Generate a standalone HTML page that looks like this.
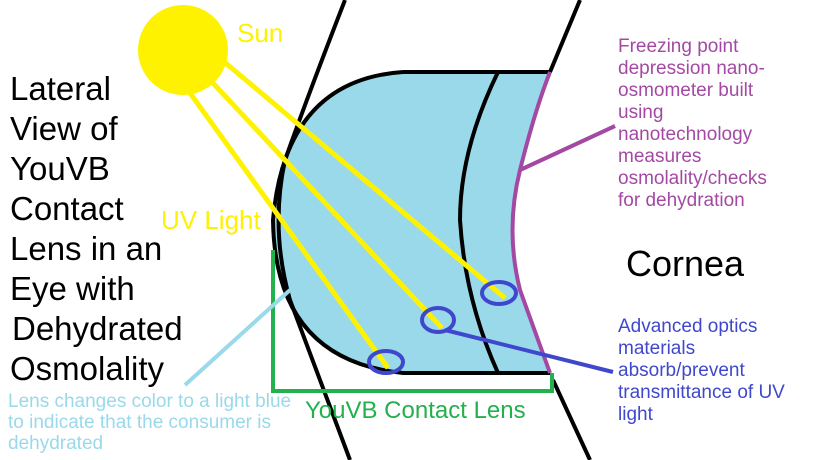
<!DOCTYPE html>
<html><head><style>
body{margin:0;width:819px;height:460px;overflow:hidden;background:#fff}
</style></head><body>
<svg width="819" height="460" xmlns="http://www.w3.org/2000/svg" style="position:absolute;left:0;top:0">
<path d="M403,72 L550,72 Q535,110 520,170 Q505,230 520,290 Q538,340 550,373 L403,373 Q275,360 273,220 Q285,80 403,72 Z" fill="#99d9ea" stroke="none"/>
<path d="M403,72 Q285,80 273,220 Q275,360 403,373 L550,373" fill="none" stroke="#000" stroke-width="4"/>
<path d="M403,72 L550,72" stroke="#000" stroke-width="4"/>
<path d="M498,72 Q460,150 460,220 Q465,300 498,373" fill="none" stroke="#000" stroke-width="4"/>
<path d="M345,0 Q310,90 285,160 Q270,230 290,300 L350,460" fill="none" stroke="#000" stroke-width="4"/>
<path d="M580,0 L550,72" stroke="#000" stroke-width="4"/>
<path d="M553,380 L590,460" stroke="#000" stroke-width="4"/>
<path d="M550,72 Q535,110 520,170 Q505,230 520,290 Q538,340 550,373" fill="none" stroke="#a349a4" stroke-width="4"/>
<path d="M520,170 L615,126" stroke="#a349a4" stroke-width="4"/>
<path d="M273,250 L273,391 L552,391 L552,373" fill="none" stroke="#22b14c" stroke-width="4"/>
<circle cx="183" cy="50" r="45" fill="#fff200"/>
<g stroke="#fff200" stroke-width="5">
<line x1="222" y1="60" x2="505" y2="298"/>
<line x1="212" y1="82" x2="442" y2="328"/>
<line x1="190" y1="93" x2="388" y2="368"/>
</g>
<path d="M290,290 L185,385" stroke="#99d9ea" stroke-width="4"/>
<g fill="none" stroke="#3f48cc" stroke-width="4">
<ellipse cx="499" cy="293" rx="17" ry="11"/>
<ellipse cx="438" cy="320" rx="16" ry="12"/>
<ellipse cx="386" cy="362" rx="17" ry="11"/>
</g>
<path d="M445,330 L613,372" stroke="#3f48cc" stroke-width="4"/>
<g font-family="Liberation Sans, sans-serif">
<g font-size="33" fill="#000">
<text x="10" y="100">Lateral</text>
<text x="10" y="140">View of</text>
<text x="10" y="180">YouVB</text>
<text x="10" y="220">Contact</text>
<text x="10" y="260">Lens in an</text>
<text x="10" y="300">Eye with</text>
<text x="12" y="340">Dehydrated</text>
<text x="10" y="380">Osmolality</text>
</g>
<text x="237" y="42" font-size="26" fill="#fff200">Sun</text>
<text x="161" y="229" font-size="26" fill="#fff200">UV Light</text>
<g font-size="19" fill="#99d9ea">
<text x="8" y="407">Lens changes color to a light blue</text>
<text x="8" y="428">to indicate that the consumer is</text>
<text x="8" y="449">dehydrated</text>
</g>
<text x="305" y="418" font-size="24" fill="#22b14c">YouVB Contact Lens</text>
<g font-size="19" fill="#a349a4">
<text x="618" y="52">Freezing point</text>
<text x="618" y="74">depression nano-</text>
<text x="618" y="96">osmometer built</text>
<text x="618" y="118">using</text>
<text x="618" y="140">nanotechnology</text>
<text x="618" y="162">measures</text>
<text x="618" y="184">osmolality/checks</text>
<text x="618" y="206">for dehydration</text>
</g>
<text x="626" y="276" font-size="36" fill="#000">Cornea</text>
<g font-size="19" fill="#3f48cc">
<text x="618" y="332">Advanced optics</text>
<text x="618" y="354">materials</text>
<text x="618" y="376">absorb/prevent</text>
<text x="618" y="398">transmittance of UV</text>
<text x="618" y="420">light</text>
</g>
</g>
</svg>
</body></html>
